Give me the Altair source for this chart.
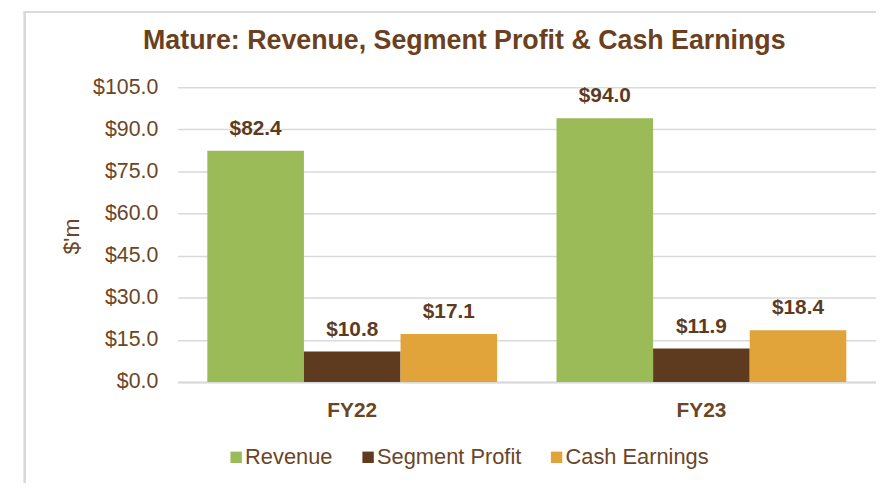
import altair as alt
import pandas as pd

years = ["FY22", "FY23"]
series = ["Revenue", "Segment Profit", "Cash Earnings"]
revenue = [82.4, 94.0]
segment_profit = [10.8, 11.9]
cash_earnings = [17.1, 18.4]
y_ticks = [0, 15, 30, 45, 60, 75, 90, 105]
colors = ["#9BBB59", "#5E3B1F", "#E1A43B"]

rows = []
for i, yr in enumerate(years):
    for s, vals in zip(series, [revenue, segment_profit, cash_earnings]):
        rows.append({"Year": yr, "Series": s, "Value": vals[i]})
df = pd.DataFrame(rows)

TXT = "#6B4526"
FONT = "Liberation Sans"

x_enc = alt.X("Year:N", sort=years, title=None,
              scale=alt.Scale(paddingInner=0.17, paddingOuter=0.085),
              axis=alt.Axis(labelAngle=0, labelFontSize=21, labelFontWeight="bold",
                            labelColor=TXT, labelFont=FONT, labelPadding=18,
                            ticks=False, domainColor="#D9D9D9", domainWidth=2))
xo_enc = alt.XOffset("Series:N", sort=series, scale=alt.Scale(paddingInner=0))

base = alt.Chart(df)

bars = base.mark_bar().encode(
    x=x_enc,
    xOffset=xo_enc,
    y=alt.Y("Value:Q", scale=alt.Scale(domain=[0, 105], nice=False),
            title="$'m",
            axis=alt.Axis(values=y_ticks, labelExpr="'$' + format(datum.value, '.1f')",
                          labelFontSize=21.5, labelColor=TXT, labelFont=FONT,
                          labelPadding=20, ticks=False, domain=False,
                          gridColor="#D9D9D9", gridWidth=1.5,
                          titleFontSize=23, titleColor=TXT, titleFont=FONT,
                          titleFontWeight="normal", titleAngle=-90,
                          titleX=-107, titleY=150, titleAlign="center",
                          titleBaseline="middle")),
    color=alt.Color("Series:N", sort=series,
                    scale=alt.Scale(domain=series, range=colors),
                    legend=alt.Legend(title=None, orient="none", direction="horizontal",
                                      legendX=48, legendY=362, padding=0,
                                      symbolType="square", symbolSize=132,
                                      symbolStrokeWidth=0, symbolOpacity=1,
                                      labelFontSize=22, labelColor=TXT, labelFont=FONT,
                                      labelOffset=alt.ExprRef(expr="-2"),
                                      columnPadding=24)),
)

labels = base.mark_text(fontSize=21, fontWeight="bold", color="#5E3B1F", font=FONT,
                        baseline="middle", dy=-22).transform_calculate(
    label="'$' + format(datum.Value, '.1f')"
).encode(
    x=alt.X("Year:N", sort=years),
    xOffset=xo_enc,
    y=alt.Y("Value:Q"),
    text="label:N",
)

frame_left = alt.Chart(df).mark_rule(color="#DADADA", strokeWidth=2).encode(
    x=alt.value(-154), y=alt.value(-76), y2=alt.value(400))
frame_top = alt.Chart(df).mark_rule(color="#DADADA", strokeWidth=2).encode(
    x=alt.value(-155), x2=alt.value(720), y=alt.value(-76))

chart = alt.layer(frame_left, frame_top, bars, labels).properties(
    width=704, height=297,
    autosize=alt.AutoSizeParams(type="none"),
    padding={"left": 171, "top": 78, "right": 0, "bottom": 100},
    title=alt.TitleParams("Mature: Revenue, Segment Profit & Cash Earnings",
                          fontSize=27, fontWeight="bold", color="#6B4020", font=FONT,
                          anchor="middle", frame="group", dx=-63, offset=0, dy=65,
                          baseline="alphabetic"),
).configure_view(stroke=None)

chart.save("out.html", embed_options={"renderer": "svg", "actions": False})
